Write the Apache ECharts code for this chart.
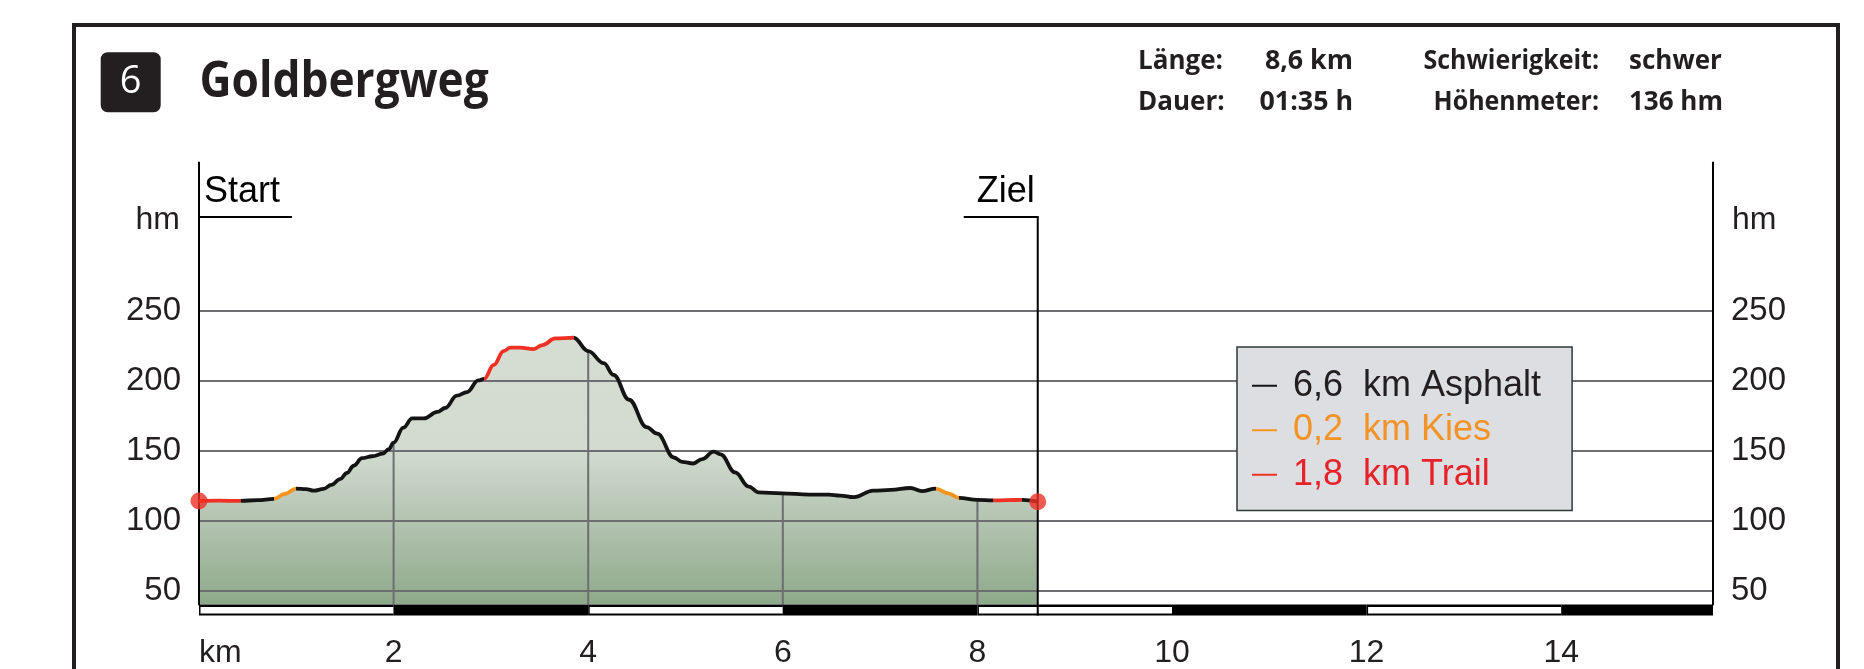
<!DOCTYPE html>
<html><head><meta charset="utf-8">
<script src="https://cdn.jsdelivr.net/npm/echarts@6/dist/echarts.min.js"></script>
<style>html,body{margin:0;padding:0;background:#fff}#c{width:1864px;height:669px}</style>
</head><body><div id="c"></div>
<script>
// ---------- data ----------
const KM_MIN = 0, KM_MAX = 15.56;
const HM_MIN = 40, HM_MAX = 356;
const profileKm = [0,0.2,0.43,0.6,0.77,0.88,1.0,1.1,1.18,1.28,1.36,1.45,1.52,1.59,1.675,1.78,1.89,1.95,2.0,2.1,2.19,2.31,2.45,2.53,2.65,2.755,2.87,2.93,3.03,3.13,3.2,3.3,3.44,3.53,3.66,3.85,4.0,4.16,4.26,4.42,4.6,4.71,4.88,4.965,5.08,5.17,5.29,5.36,5.51,5.65,5.75,5.99,6.27,6.47,6.59,6.73,6.93,7.11,7.31,7.43,7.57,7.7,7.81,8.0,8.16,8.3,8.46,8.62];
const profileHm = [114,114.2,114.1,114.6,115.5,119,122.9,122.5,121.4,122.6,125.5,129.7,134,139.2,144.6,146,147.9,151,155.7,166.4,173,173,177.7,180.5,189.3,191.9,200.2,201.3,211.3,221.2,223.6,223.6,222.6,225.5,230.2,230.7,221.2,212.5,204.2,186.4,166.8,162.1,145.1,142,140.8,143.9,149.3,147.4,134.4,124.3,120.2,119.5,118.6,118.6,117.9,116.7,121.4,121.9,123.3,121,122.9,119.5,116.2,114.8,114.4,114.6,114.8,113.5];
const surfaceNames = ['Asphalt','Kies','Trail'];
const surfaceKm = ['6,6','0,2','1,8'];
const surfaceColors = ['#151414','#f7941d','#ee3124'];
const surfaceTextColors = ['#231f20','#f39325','#e62129'];
const segStart = [0,0.43,0.77,1.0,2.93,3.85,7.57,7.81,8.16,8.46];
const segEnd = [0.43,0.77,1.0,2.93,3.85,7.57,7.81,8.16,8.46,8.62];
const segSurface = ['Trail','Asphalt','Kies','Asphalt','Trail','Asphalt','Kies','Asphalt','Trail','Asphalt'];
const hmTicks = [50,100,150,200,250];
const kmTicks = [0,2,4,6,8,10,12,14];
const kmTickLabels = ['km','2','4','6','8','10','12','14'];
const kmGridKm = [2,4,6,8];
const kmGridHm = [155.7,221.2,119.5,114.8];
const scaleStart = [0,2,4,6,8,10,12,14];
const scaleEnd = [2,4,6,8,10,12,14,KM_MAX];
const scaleDark = [0,1,0,1,0,1,0,1];
const endKm = [0,8.62];
const endHm = [114,113.5];
const markerKm = [0,8.62];
const markerNames = ['Start','Ziel'];
const MARKER_HM = 317;
const routeNumber = '6';
const routeName = 'Goldbergweg';
const infoLabelsA = ['Länge:','Dauer:'];
const infoValuesA = ['8,6 km','01:35 h'];
const infoLabelsB = ['Schwierigkeit:','Höhenmeter:'];
const infoValuesB = ['schwer','136 hm'];

// ---------- chart ----------
const chart = echarts.init(document.getElementById('c'), null, {renderer:'canvas'});
const AX_FONT = '"Liberation Sans", Arial, sans-serif';
const HEAD_FONT = '"Open Sans", sans-serif';
const INK = '#231f20';
const GRIDC = '#6d6e71';

const profile = profileKm.map((k,i)=>[k, profileHm[i]]);
const colorOf = n => surfaceColors[surfaceNames.indexOf(n)];
const pieces = segStart.map((s,i)=> i === segStart.length-1
  ? {gte:s, lte:segEnd[i], color:colorOf(segSurface[i])}
  : {gte:s, lt:segEnd[i], color:colorOf(segSurface[i])});

function txt(t, x, y, font, fill, align, vAlign, extra){
  return Object.assign({type:'text', x:x, y:y, silent:true,
    style:{text:t, font:font, fill:fill, align:align, verticalAlign:vAlign, textAlign:align, textVerticalAlign:vAlign}}, extra||{});
}

function renderScale(params, api){
  const a = api.coord([api.value(0), HM_MIN]);
  const b = api.coord([api.value(1), HM_MIN]);
  const H = 11;
  const ch = [{type:'rect', shape:{x:a[0], y:a[1], width:b[0]-a[0], height:H}, style:{fill:'#000'}}];
  if (!api.value(3)) ch.push({type:'rect', shape:{x:a[0]+1.5, y:a[1]+2.5, width:b[0]-a[0]-1.5, height:H-4.5}, style:{fill:'#fff'}});
  return {type:'group', children:ch};
}
function renderMarker(params, api){
  const i = params.dataIndex;
  const p = api.coord([api.value(0), api.value(1)]);
  const base = api.coord([api.value(0), HM_MIN]);
  const ls = {stroke:'#000', lineWidth:2};
  const font = '36px ' + AX_FONT;
  if (i === 0) {
    return {type:'group', children:[
      {type:'line', shape:{x1:p[0], y1:p[1], x2:p[0]+93, y2:p[1]}, style:ls},
      txt(markerNames[i], p[0]+5, p[1]-25, font, '#000', 'left', 'middle')
    ]};
  }
  return {type:'group', children:[
    {type:'line', shape:{x1:p[0], y1:p[1], x2:p[0], y2:base[1]+11}, style:ls},
    {type:'line', shape:{x1:p[0]-74, y1:p[1], x2:p[0]+1, y2:p[1]}, style:ls},
    txt(markerNames[i], p[0]-3, p[1]-25, font, '#000', 'right', 'middle')
  ]};
}

const yAxisBase = {
  type:'value', min:HM_MIN, max:HM_MAX,
  axisLine:{show:true, onZero:false, lineStyle:{color:'#000', width:2}},
  axisTick:{show:false, customValues:hmTicks},
  axisLabel:{customValues:hmTicks, fontFamily:AX_FONT, fontSize:33, color:INK, margin:18},
  name:'hm', nameLocation:'end', nameGap:-57.5
};

const option = {
  animation:false,
  backgroundColor:'#fff',
  grid:{left:199, right:151, top:162.5, bottom:59, containLabel:false},
  xAxis:{type:'value', min:KM_MIN, max:KM_MAX, interval:2,
    axisLine:{show:false}, axisTick:{show:false}, splitLine:{show:false},
    axisLabel:{fontFamily:AX_FONT, fontSize:32, color:INK, margin:32.5, alignMinLabel:'left',
      formatter:v=>{const i = kmTicks.indexOf(v); return i<0 ? '' : kmTickLabels[i];}}},
  yAxis:[
    Object.assign({}, yAxisBase, {position:'left',
      splitLine:{show:true, lineStyle:{color:GRIDC, width:2}},
      nameTextStyle:{fontFamily:AX_FONT, fontSize:32, color:INK, align:'right', verticalAlign:'middle', padding:[0,19,0,0]}}),
    Object.assign({}, yAxisBase, {position:'right', splitLine:{show:false},
      nameTextStyle:{fontFamily:AX_FONT, fontSize:32, color:INK, align:'left', verticalAlign:'middle', padding:[0,0,0,19]}})
  ],
  visualMap:{type:'piecewise', show:false, dimension:0, seriesIndex:2, pieces:pieces},
  legend:{orient:'vertical', left:1237, top:347, selectedMode:false,
    data:surfaceNames.map((n,i)=>({name:n, textStyle:{color:surfaceTextColors[i]}})),
    formatter:n=>surfaceKm[surfaceNames.indexOf(n)] + '  km ' + n,
    icon:'rect', itemWidth:25, itemHeight:2, itemGap:0,
    textStyle:{fontFamily:AX_FONT, fontSize:36, lineHeight:44.5, padding:[0,0,0,11]},
    backgroundColor:'#dddee2', borderColor:'#2d3b36', borderWidth:1.5, padding:[16.5,31,13.5,15]},
  series:[
    {type:'line', name:'profileArea', data:profile, smooth:0.4, smoothMonotone:'x', showSymbol:false, silent:true, z:-2,
      lineStyle:{width:0},
      areaStyle:{opacity:1, color:new echarts.graphic.LinearGradient(0,0,0,1,[
        {offset:0, color:'#d5ddd3'},{offset:0.42, color:'#d3dbd1'},{offset:1, color:'#8ea98a'}])}},
    {type:'bar', name:'kmGrid', data:kmGridKm.map((k,i)=>[k, kmGridHm[i]]), barWidth:2, silent:true, z:-1,
      itemStyle:{color:GRIDC}},
    {type:'line', name:'profileLine', data:profile, smooth:0.4, smoothMonotone:'x', showSymbol:false, silent:true, z:3,
      lineStyle:{width:3.8, cap:'round', join:'round'}},
    {type:'scatter', name:'ends', data:endKm.map((k,i)=>[k, endHm[i]]), symbolSize:17, silent:true, z:5,
      itemStyle:{color:'#ee3124'}},
    {type:'custom', name:'scalebar', data:scaleStart.map((s,i)=>[s, scaleEnd[i], HM_MIN, scaleDark[i]]),
      encode:{x:[0,1], y:2}, renderItem:renderScale, clip:false, silent:true, z:2},
    {type:'custom', name:'markers', data:markerKm.map(k=>[k, MARKER_HM]),
      encode:{x:0, y:1}, renderItem:renderMarker, clip:false, silent:true, z:4},
    ...surfaceNames.map((n,i)=>({type:'line', name:n, data:[], color:surfaceColors[i],
      itemStyle:{color:surfaceColors[i]}, lineStyle:{color:surfaceColors[i]}}))
  ],
  graphic:[
    {type:'rect', silent:true, shape:{x:74, y:25, width:1764, height:700}, style:{fill:'none', stroke:INK, lineWidth:4}},
    {type:'rect', silent:true, shape:{x:100.7, y:52.3, width:60, height:60, r:7}, style:{fill:INK}},
    txt(routeNumber, 130.7, 82.5, '38px ' + HEAD_FONT, '#fff', 'center', 'middle'),
    txt(routeName, 199.5, 83, 'bold 50px ' + HEAD_FONT, INK, 'left', 'middle', {scaleX:0.885}),
    txt(infoLabelsA[0], 1138, 61.5, 'bold 26px ' + HEAD_FONT, INK, 'left', 'middle'),
    txt(infoLabelsA[1], 1138, 102.5, 'bold 26px ' + HEAD_FONT, INK, 'left', 'middle'),
    txt(infoValuesA[0], 1353, 61.5, 'bold 26px ' + HEAD_FONT, INK, 'right', 'middle', {scaleX:1.03}),
    txt(infoValuesA[1], 1353, 102.5, 'bold 26px ' + HEAD_FONT, INK, 'right', 'middle', {scaleX:1.03}),
    txt(infoLabelsB[0], 1599, 61.5, 'bold 26px ' + HEAD_FONT, INK, 'right', 'middle', {scaleX:0.96}),
    txt(infoLabelsB[1], 1599, 102.5, 'bold 26px ' + HEAD_FONT, INK, 'right', 'middle', {scaleX:0.96}),
    txt(infoValuesB[0], 1629, 61.5, 'bold 26px ' + HEAD_FONT, INK, 'left', 'middle'),
    txt(infoValuesB[1], 1629, 102.5, 'bold 26px ' + HEAD_FONT, INK, 'left', 'middle')
  ]
};
chart.setOption(option);
</script></body></html>
